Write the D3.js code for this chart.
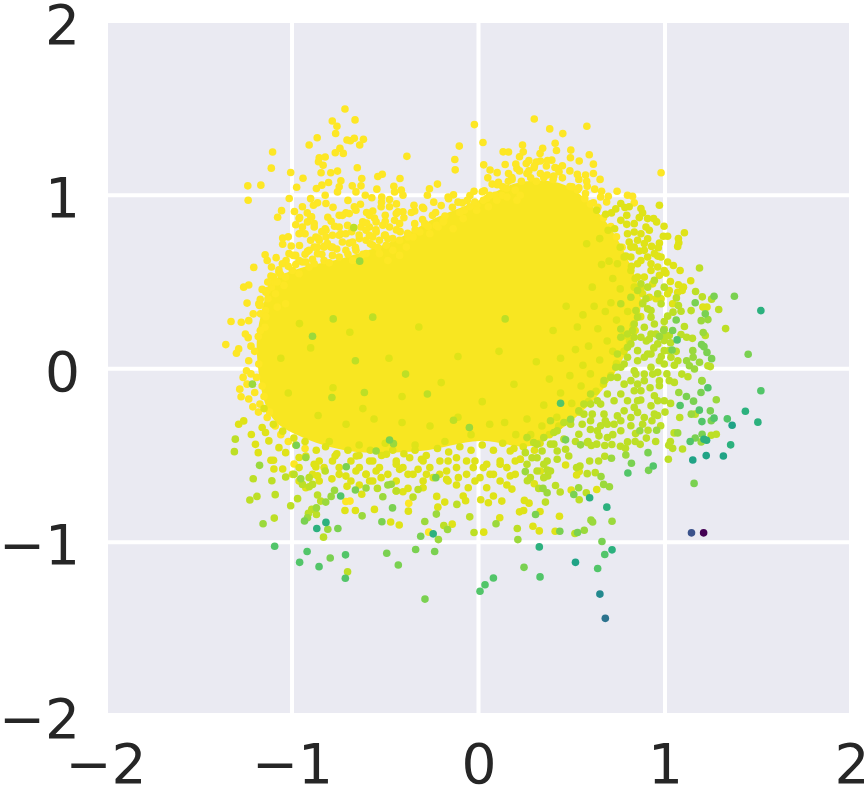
<!DOCTYPE html>
<html>
<head>
<meta charset="utf-8">
<script src="https://cdn.jsdelivr.net/npm/d3@7"></script>
<style>
    body { margin: 0; background: #fff; }
    text { font-family: "DejaVu Sans"; }
</style>
</head>
<body>
<div id="scatter"></div>
<script>
var tickValues = [-2, -1, 0, 1, 2];
var tickLabels = ["\u22122", "\u22121", "0", "1", "2"];

// the core is too dense to read single points from: its outline is read instead
var coreOutline = [[-1.189,.104],[-1.167,.306],[-1.097,.509],[-.962,.578],[-.72,.64],[-.45,.74],[-.233,.867],[0,.97],[.224,1.075],[.466,1.058],[.655,.884],[.79,.653],[.871,.393],[.806,.133],[.682,-.098],[.466,-.329],[.278,-.445],[.008,-.416],[-.315,-.474],[-.693,-.474],[-.962,-.387],[-1.113,-.272]];

// points, one list per colour value
var yellowPoints = [[-.716,1.497],[-.784,1.428],[-.662,1.434],[-.759,1.397],[-.766,1.356],[-.865,1.331],[-.908,1.289],[-.705,1.318],[-.687,1.314],[-.666,1.328],[-.617,1.322],[-.637,1.289],[-.743,1.27],[-.768,1.245],[-.725,1.241],[-1.104,1.249],[-1.111,1.156],[-1.007,1.131],[-1.237,1.054],[-1.167,1.058],[-1.235,.971],[-.975,1.046],[-.941,1.098],[-1.015,.981],[-1.056,.911],[-1.077,.873],[-.987,.906],[-.384,1.224],[-.65,1.158],[-.626,1.096],[-.54,1.108],[-.516,1.121],[-.421,1.096],[-.022,1.407],[.024,1.304],[-.103,1.283],[-.127,1.206],[-.125,1.146],[.028,1.175],[.062,1.145],[.132,1.25],[.161,1.249],[.143,1.177],[-.22,1.064],[-.263,1.037],[-.274,1],[-.163,.99],[-.134,1.002],[-.046,.998],[-.024,1.023],[.031,1.025],[.073,1.064],[.107,1.075],
[-.854,1.216],[-.822,1.22],[-.858,1.193],[-.833,1.173],[-.844,1.129],[-.792,1.129],[-.756,1.139],[-.738,1.083],[-.747,1.048],[-.804,1.073],[-.84,1.058],[-.869,1.039],[-.756,1.019],[-.822,1],[-.677,1.054],[-.63,1.054],[-.657,1.019],[-.607,1],[-.572,.985],[-.545,1.035],[-.519,.99],[-.454,1.052],[-.414,1.029],[-.45,1.019],[-.405,1],[-.477,.975],[-.346,.942],[-.294,.923],[-.342,.909],[-.405,.904],[-.432,.904],[-.477,.933],[-.522,.933],[-.567,.909],[-.633,.948],[-.666,.933],[-.711,.898],[-.747,.884],[-.818,.952],[-.863,.956],[-.885,.942],[-.944,.933],[-.918,.898],[-.895,.875],[-.959,.871],[-.808,.873],[-.881,.817],[-.953,.782],[-.93,.778],[-.772,.821],[-.822,.807],[-.858,.75],[-.818,.759],[-.702,.826],[-.63,.817],[-.738,.778],[-.693,.724],[-.558,.869],[-.585,.817],[-.5,.884],[-.45,.855],[-.423,.836],[-.567,.759],[-.504,.769],[-.486,.749],[-.378,.759],[-.342,.836],[-.288,.836],[-.247,.884],[-.186,.852],[-.226,.826],[-.087,.956],[-.076,.913],[-.01,.942],[.044,.981],[.125,1],[.197,1.029],[.224,1],[.206,1.154],[.161,1.125],[.179,1.102],[.22,1.222],[.13,1.048],[.089,1],
[-1.05,.753],[-1.05,.717],[-1.004,.707],[-1.144,.657],[-1.133,.624],[-1.085,.64],[-1.205,.584],[-1.11,.586],[-1.113,.534],[-1.061,.543],[-1.032,.624],[-.993,.653],[-.944,.615],[-.917,.676],[-.863,.701],[-.792,.701],[-.828,.705],[-1.259,.47],[-1.232,.482],[-1.16,.457],[-1.111,.47],[-1.241,.378],[-1.129,.403],[-1.174,.364],[-1.208,.316],[-1.169,.316],[-1.327,.272],[-1.272,.268],[-1.232,.277],[-1.145,.239],[-1.181,.185],[-1.235,.179],[-1.079,.355],[-1.034,.374],
[-1.355,.139],[-1.286,.114],[-1.298,.089],[-1.232,.046],[-1.244,-.012],[-1.178,.027],[-1.262,-.05],[-1.241,-.089],[-1.28,-.118],[-1.273,-.162],[-1.232,-.175],[-1.172,-.204],[-1.2,-.137],[-1.133,-.281],
[.299,1.439],[.382,1.382],[.452,1.355],[.581,1.397],[.236,1.289],[.411,1.299],[.344,1.27],[.418,1.258],[.495,1.26],[.594,1.233],[.493,1.216],[.54,1.197],[.616,1.179],[.393,1.202],[.332,1.197],[.31,1.191],[.256,1.183],[.364,1.168],[.298,1.158],[.425,1.154],[.432,1.135],[.332,1.125],[.26,1.125],[.368,1.116],[.404,1.11],[.538,1.091],[.574,1.116],[.616,1.125],[.652,1.091],[.502,1.048],[.538,1.042],[.583,1.052],[.623,1.035],[.66,1.023],[.574,1.01],[.743,1.023],[.799,1],[.826,.994],[.835,.956],[.696,.994],[.687,.961],[.655,.99],[.616,.956],[.979,1.129],
[-.711,-.765],[-.689,-.763],[-.374,-.776],[-.267,-.942],[-.989,-.549]];

var yellowFringe = [[-.962,.865],[-.944,.817],[-.962,.778],[-.881,.836],[-.899,.875],[-.917,.846],[-.854,.74],[-.828,.701],[-.881,.701],[-.908,.682],[-.863,.663],[-.98,.653],[-1.016,.663],[-.962,.624],[-.926,.615],[-.881,.605],[-.81,.721],[-.783,.701],[-.747,.769],[-.711,.778],[-.675,.73],[-.639,.75],[-.603,.74],[-.567,.711],[-.531,.74],[-.495,.711],[-.459,.682],[-.423,.74],[-.387,.701],[-.351,.759],[-.315,.788],[-.261,.778],[-.217,.817],[-.19,.846],[-.136,.807],[-.082,.865],[-.046,.933],[-.01,.913],[.026,.971],[.053,.933],[.098,.971],[.152,.99],[.206,.971],[-.729,.884],[-.693,.894],[-.657,.913],[-.585,.884],[-.549,.846],[-.513,.827],[-.477,.817],[-.441,.894],[-.585,.769],[-.549,.788],[-.621,.846],[-.603,.798],[-.747,.817],[-.783,.769],[-.818,.798],[-.872,.759],[-.711,.682],[-.657,.682],[-.783,.653],[-.747,.644],[-.675,.624],[-.603,.663],[-.531,.663],[-.486,.624],[-.423,.653],[-1.052,.605],[-1.07,.557],[-1.097,.499],[-1.133,.451],[-1.178,.374],[-1.142,.335],[-1.088,.432],[-1.043,.48],[-.998,.566],[-1.034,.528],[-.962,.547],[-.908,.586],[-.828,.624],
[-1.17,.22],[-1.2,.1],[-1.22,.13],[-1.19,-.05],[-1.16,-.1],[-1.22,-.03],[-1.25,.2],[-1.14,.3],[-1.17,.4],[-1.13,.5],[-1.08,.5],[-1.12,-.25],[-1.09,-.33],[-1.06,-.38],[-1.21,-.22],[-1.15,-.16],[-1.18,-.25],[-1.02,-.42],[-.98,-.44],[-.93,-.46]];

var yellowEdge = [[-1.17,.37],[-1.14,.44],[-1.1,.53],[-1.07,.57],[-1.02,.59],[-.98,.6],[-.93,.66],[-.89,.63],[-.84,.66],[-.8,.61],[-.76,.69],[-.7,.66],[-.66,.7],[-.62,.66],[-.58,.72],[-.54,.7],[-.5,.77],[-.46,.75],[-.42,.79],[-.38,.78],[-.34,.8],[-.3,.86],[-.27,.82],[-.23,.9],[-.18,.88],[-.14,.93],[-.1,.9],[-.06,.97],[-.02,.96],[.02,1.02],[.06,1],[.1,1.06],[.15,1.04],[.18,1.09],[.23,1.08],[.27,1.14],[.31,1.08],[.35,1.1],[.4,1.09],[.45,1.1],[.49,1.05],[.53,1.03],[.57,.98],[.6,.95],[.64,.93],[.67,.87],[.71,.82],[.74,.76],[.77,.7],
[-.96,.71],[-.9,.74],[-.84,.79],[-.79,.85],[-.73,.73],[-.68,.79],[-.64,.77],[-.6,.84],[-.55,.8],[-.5,.85],[-.44,.8],[-.4,.87],[-.36,.9],[-.3,.93],[-.24,.96],[-.2,.94],[-.16,.98],[-.11,.96],[-.98,.83],[-1.02,.76],[-.9,.98],[-.78,.93],[-.7,.97],[-.6,.9],[-.52,.96],[-.44,.95],
[.05,1.1],[.1,1.13],[.16,1.08],[.22,1.14],[.27,1.2],[.3,1.17],[.33,1.24],[.37,1.2],[.41,1.16],[.45,1.17],[.49,1.14],[.53,1.12],[.58,1.08],[.2,1.18],[.24,1.25],[.28,1.1]];

var paleLimePoints = [[.763,.952],[.785,.929],[.808,.933],[.736,.921],[.713,.898],[.682,.89],[.634,.913],[.871,.923],[.88,.898],[.862,.871],[.795,.884],[.763,.855],[.795,.832],[.73,.807],[.695,.798],[.907,.865],[.939,.865],[.955,.846],[.898,.817],[.916,.798],[.835,.788],[.799,.778],[.97,.942],[.995,.821],[.991,.763],[1.014,.763],[.907,.749],[1.104,.784],[1.072,.75],[1.074,.726],[1.068,.705],[.97,.724],[.964,.697],[.928,.705],[.889,.721],[.862,.678],[.808,.73],[.817,.701],[.871,.624],[.925,.605],[.817,.566],[.781,.644],[.745,.605],[.961,.649],[1.014,.615],[1.045,.595],[1.081,.566],[1.138,.507],[1.005,.551],[1.029,.503],[1.072,.484],[1.099,.47],[1.092,.451],[1.203,.355],[1.225,.355],
[-1.097,-.578],[-1.05,-.578],[-1.286,-.32],[-1.259,-.301],[-1.218,-.379],[-1.181,-.484],[-1.196,-.436],[-1.099,-.528],[-1.113,-.528],[-1.16,-.339],[-1.142,-.368],[-1.124,-.416],[-1.07,-.455],[-1.034,-.484],[-.962,-.512],[-.872,-.566],[-.786,-.635],[-.863,-.618],[-.711,-.619],[-.657,-.59],[-.603,-.609],[-.549,-.59],[-.522,-.628],[-.584,-.647],[-.423,-.58],[-.378,-.609],[-.324,-.58],[-.243,-.628],[-.171,-.638],[-.108,-.628],[.008,-.628],[.08,-.609],[.17,-.618],[.179,-.694],[.044,-.686],[-.055,-.686],[-.926,-.503],[-.881,-.551],[-.769,-.503],[-.655,-.503],[-.584,-.532],[-.494,-.493],[-.441,-.551],[-.369,-.513],[-.306,-.522],[-.207,-.532],[-.118,-.513],[-.064,-.532],[.044,-.551],[.116,-.551],[.17,-.474],[.224,-.522],[-.028,-.57],[-.171,-.59],[-.279,-.609],
[-.705,-.678],[-.626,-.724],[-.558,-.811],[-.66,-.817],[-.716,-.817],[-.471,-.884],[-.425,-.901],[-.376,-.821],[-.441,-.705],[-.405,-.709],[-.378,-.69],[-.218,-.798],[-.224,-.736],[-.181,-.769],[-.141,-.896],[-.082,-.734],[-.069,-.761],[.028,-.942],[.114,-.859],[.125,-.763],[.08,-.734],[.053,-.773],[.012,-.755],[.22,-.825],[.271,-.775],[.246,-.759],[.33,-.823],[.242,-.817],[.434,-.85],[.411,-.937],[.326,-.935],[.292,-.908],[.467,-.555],[.54,-.593],[.526,-.613],[.299,-.663],[.634,-.696],[.497,-.699],[.224,-.522],[.332,-.59],
[-.9,.12],[-.78,-.11],[-.69,.21],[-.62,-.23],[-.48,.06],[-.41,-.16],[-.32,.24],[-.2,-.08],[-.11,.07],[.02,-.19],[.11,.1],[.19,-.09],[.31,.04],[.4,.22],[.52,.11],[.56,.31],[.61,.47],[.64,.23],[.71,.38],[.49,-.04],[.44,-.14],[.59,.13],[.69,.16],[.35,-.21],[.26,-.29],[.14,-.31],[.06,-.32],[-.11,-.28],[-.26,-.33],[-.41,-.31],[-.56,-.29],[-.71,-.32],[-.86,-.27],[-1.02,-.14],[-1.06,.06],[-.96,.26],
[.66,.6],[.72,.52],[.76,.46],[.68,.33],[.74,.28],[.78,.19],[.72,.1],[.65,.05],[.6,-.03],[.55,-.1],[.5,-.2],[.42,-.28],[.34,-.33],[.47,.36],[.53,.24],[.44,.06],[.38,-.06],[.62,.36],[.56,.02],[.8,.33],[.83,.25],[.7,.62],[.76,.7],[.58,.72],[.65,.75],[.28,-.38],[.2,-.38],[-.04,-.38],[-.18,-.42],[-.34,-.44],[-.5,-.43],[-.64,-.44],[-.8,-.42]];

var paleFringe = [[.835,.836],[.835,.701],[.871,.778],[.853,.74],[.889,.682],[.817,.644],[.853,.605],[.907,.644],[.943,.663],[.979,.644],[.925,.566],[.961,.586],[.889,.528],[.934,.489],[.97,.538],[.996,.566],[.853,.528],[.835,.47],[.88,.432],[.916,.412],[.952,.403],[1.014,.432],[.979,.403],[1.023,.451],[1.041,.374],[1.068,.441],
[-.854,-.532],[-.783,-.532],[-.684,-.532],[-.567,-.532],[-.441,-.532],[-.297,-.532],[-.163,-.532],[-.019,-.532],[.116,-.532],[.197,-.532],[-.962,-.57],[-.828,-.57],[-.747,-.57],[-.639,-.57],[-.531,-.57],[-.405,-.57],[-.261,-.57],[-.118,-.57],[.026,-.57],[.152,-.57],[-.998,-.609],[-.89,-.609],[-.747,-.609],[-.603,-.609],[-.486,-.609],[-.351,-.609],[-.208,-.609],[-.064,-.609],[.062,-.609],[.197,-.609],[-.962,-.647],[-.854,-.647],[-.684,-.647],[-.567,-.647],[-.441,-.647],[-.297,-.647],[-.163,-.647],[-.019,-.647],[.116,-.647],[-.926,-.686],[-.639,-.67],[-.297,-.686],[-.118,-.67],[.152,-.67]];

var paleEdge = [[-1.15,-.23],[-1.1,-.32],[-1.05,-.36],[-.99,-.4],[-.93,-.42],[-.87,-.47],[-.82,-.45],[-.76,-.49],[-.7,-.47],[-.64,-.5],[-.58,-.47],[-.52,-.5],[-.46,-.47],[-.4,-.49],[-.34,-.47],[-.28,-.5],[-.22,-.46],[-.16,-.48],[-.1,-.45],[-.04,-.47],[.02,-.44],[.08,-.47],[.13,-.43],[.19,-.46],[.24,-.45],[.3,-.47],[.33,-.43],
[.38,-.38],[.43,-.33],[.49,-.3],[.54,-.25],[.59,-.19],[.63,-.13],[.67,-.09],[.71,-.04],[.74,.03],[.78,.1],[.81,.16],[.84,.22],[.87,.3],[.88,.38],[.87,.46],[.84,.52],[.82,.59],[.79,.65]];

var limePoints = [[1.185,.58],[1.164,.445],[1.2,.414],[1.14,.335],[1.086,.331],[1.043,.326],[1.072,.364],[1.061,.408],[1.25,.401],[1.288,.341],[1.014,.303],[.996,.272],[1.325,.231],[1.104,.243],[1.216,.191],[1.086,.197],[1.116,.181],[1.147,.175],[1.23,.017],[1.243,.012],[1.032,.066],[1.069,.046],[1.09,-.031],[1.123,-.046],[1.023,-.069],[1.05,-.079],[.97,-.098],
[.763,.374],[.817,.412],[.853,.451],[.907,.47],[.961,.432],[.979,.374],[.925,.335],[.853,.297],[.889,.239],[.826,.22],[.763,.181],[.817,.143],[.925,.2],[.961,.143],[.907,.085],[.853,.104],[.799,.066],[.745,.085],[.763,.008],[.835,-.012],[.889,-.031],[.925,.008],[.961,-.021],[.745,-.05],[.781,-.089],[.871,.489],[.943,.509],[.996,.47],
[.996,-.185],[.943,-.156],[.871,-.127],[.799,-.185],[.727,-.185],[.655,-.204],[.601,-.204],[.565,-.204],[.925,-.214],[.853,-.252],[.889,-.281],[.817,-.281],[.745,-.272],[.673,-.262],[.61,-.262],[.538,-.243],[.88,-.32],[.817,-.329],[.763,-.358],[.655,-.329],[.646,-.387],[.556,-.32],[.538,-.378],[.458,-.406],[.404,-.368],[.458,-.31],[.583,-.426],[.467,-.464],[.484,-.503],[.422,-.522],[.341,-.474],[.287,-.513],[.368,-.532],[.296,-.426],[.251,-.484],[.404,-.435],
[.977,-.329],[.909,-.355],[.842,-.374],[.867,-.436],[.761,-.447],[.788,-.459],[.799,-.422],[.715,-.437],[.677,-.443],[.634,-.435],[.605,-.443],[.587,-.42],[.677,-.505],[.644,-.532],[.596,-.532],[.526,-.57],[.544,-.561],[.626,-.599],[.583,-.605],[.578,-.715],[.54,-.755],[.438,-.711],[.413,-.673],[.359,-.769],[.517,-.95],[.369,-.584],[.371,-.618],[.262,-.646],[.323,-.69],[1.018,-.522],[1.248,-.384],[1.275,-.378],[1.162,-.262],[1.079,-.281],[1.094,-.463],[1.041,-.459],[1.02,-.441],[1.029,-.42],[1.049,-.37],
[-1.226,-.757],[-1.188,-.736],[-1.208,-.634],[-1.108,-.646],[-1.09,-.726],[-1.095,-.861],[-1.034,-.624],[-1.007,-.79],[-.97,-.749],[-1.309,-.478],[-1.304,-.406],[-.989,-.609],[-.944,-.667],[-.908,-.68],[-.89,-.667],[-.863,-.728],[-.846,-.763],[-.894,-.811],[-.912,-.834],[-.869,-.84],[-.831,-.971],[-.702,-1.171],[-.908,-.628],[-.822,-.59],[-.542,-.69],[-.441,-.705],[-.351,-.74],[-.324,-.696],[-.186,-.904],[-.116,-.782],[-.047,-.854],[-.024,-.944],[.208,-.921],[-.66,.046],[-.391,-.031],[-.612,-.137],[-.274,-.146],[-.786,-.166],[-.134,-.297],[-.669,.813],[.143,.287],[-.567,.297],[-.779,.287]];

var limeFringe = [[.907,.345],[.88,.374],[.925,.297],[.943,.258],[.996,.229],[.898,.403],[.844,.335],[.835,.258],[.871,.181],[.916,.171],[.952,.2],[.996,.162],[1.023,.191],[.835,.181],[.799,.2],[.763,.229],[.799,.123],[.853,.046],[.889,.066],[.925,.085],[.996,.104],[1.023,.104],[.996,.027],[.97,.046],[.934,-.031],[.889,-.069],[.853,-.089],[.817,-.069],[.844,-.031],[.781,.027],[.736,.008],[.709,-.05],[.673,-.069],
[.386,-.3],[.422,-.358],[.35,-.397],[.314,-.435],[.386,-.435],[.422,-.474],[.314,-.513],[.35,-.551],[.26,-.551],[.314,-.59],[.386,-.59],[.278,-.628],[.35,-.628],[.26,-.397],[.494,-.32],[.565,-.262],[.601,-.3],[.637,-.358],[.691,-.397],[.727,-.32],[.763,-.3],[.781,-.243],[.835,-.223],[.853,-.185],[.943,-.262],[.961,-.185],[.691,-.32],[.637,-.185],[.601,-.146],[.691,-.146],[.763,-.146],[.835,-.127],
[.9,.16],[.94,.12],[.98,.07],[1,.19],[1.03,.15],[1.06,.1],[1.05,.02],[1.01,-.03],[.97,-.07],[.92,-.11],[.87,-.18],[.93,-.3],[.96,-.27],[1,-.25],[1.03,-.2],[.9,-.4],[.84,-.42],[.95,-.42],[.72,-.38],[.68,-.3],[.6,-.35],[.52,-.42]];

var leafPoints = [[1.205,.208],[1.149,.104],[1.151,.066],[1.116,.046],[1.185,.037],[1.131,.017],[1.158,-.002],[1.198,-.069],[.97,.185],[.993,.22],[1.194,.277],[1.23,.283],[1.275,-.179],[1.074,-.137],[1.198,-.071],[1.141,-.262],[1.068,-.37],[1.194,-.422],[.955,-.355],[.865,-.358],[.79,-.497],[.547,-.439],[.713,-.516],[.657,-.622],[.671,-.667],[.702,-.68],[.537,-.686],[.368,-.715],[.346,-.69],[.603,-.873],[.612,-.884],[.716,-.879],[.494,-.291],[.251,-.593],[.567,-.931],
[-1.155,-.894],[-1.174,-.557],[-1.212,-.089],[-.926,-.512],[-.953,-.634],[-.917,-.859],[-.819,-.769],[-.869,-.802],[-.808,-.925],[-.79,-.736],[-.772,-.701],[-.603,-.688],[-.624,-.848],[-.513,-.738],[-.486,-.67],[-.468,-.666],[-.456,-.432],[-.549,-.474],[-.288,-.881],[-.215,-.985],[-.226,-.838],[-.166,-.927],[.094,-.894],[.211,-.985],[-.049,-.339],[-.637,.62],[-.89,.187]];

var grassPoints = [[.82,-.545],[.909,-.484],[.912,-.586],[1.162,-.399],[1.199,-.378],[1.243,-.243],[1.248,-.3],[1.153,-.187],[1.115,-.16],[1.193,-.137],[1.156,-.661],[1.263,.418],[1.372,.418],[1.162,.38],[1.216,.316],[1.041,.22],[1.196,.139],[1.209,.127],[1.225,.094],[1.25,.058],[1.446,.083],[.511,-.725],[.436,-.937],[.531,-.944],[.306,-.84],[.244,-1.145],[.662,-.996],[.467,-.41],[1.06,.281],[1.038,.108],
[-.709,-.565],[-.66,-.699],[-.933,-.878],[-.754,-.921],[-.492,-1.064],[-.43,-1.131],[-.337,-1.042],[-.235,-1.054],[-.287,-1.328],[-.795,-1.091],[-.518,-.882],[-.461,-.802],[-.31,-.966],[-.229,-.628],[-.477,-.411],[-.977,-.441]];

var greenPoints = [[1.514,-.127],[1.334,-.289],[.937,-.561],[.801,-.601],[1.135,-.42],[1.198,-.305],[1.263,-.285],[1.184,-.239],[1.081,-.212],[1.23,-.11],[1.065,.166],[.639,-1.152],[.33,-1.2],[.677,-1.071],[.44,-.199],
[-1.093,-1.023],[-.919,-1.054],[-.959,-1.116],[-.855,-1.141],[-.713,-1.073],[-.714,-1.208],[-.739,-.734],[.08,-1.206],[.035,-1.245],[.008,-1.283]];

var seaPoints = [[1.514,.335],[1.209,-.407],[1.223,-.412],[.688,-.798],[.596,-.744],[1.352,-.439],[1.498,-.308],[1.431,-.245],[.326,-1.027],[.716,-1.044],[-.818,-.886],[-.867,-.921],[-.243,-.952]];

var tealPoints = [[.52,-1.116],[1.149,-.526],[1.221,-.501],[1.313,-.503],[1.36,-.326]];

var singleShades = [.47, .38, .25, 0];
var singleX = [.651, .68, 1.142, 1.207];
var singleY = [-1.299, -1.439, -.946, -.946];

var bandShades = [1, 1, 1, .95, .95, .95, .9, .9, .85, .8, .73, .64, .58];
var bandPoints = [yellowPoints, yellowFringe, yellowEdge, paleLimePoints, paleFringe, paleEdge, limePoints, limeFringe, leafPoints, grassPoints, greenPoints, seaPoints, tealPoints];

var svgWidth = 868;
var svgHeight = 788;

var margin = {
    top: 23,
    right: 19,
    bottom: 75,
    left: 108
};

var width = svgWidth - margin.left - margin.right;
var height = svgHeight - margin.top - margin.bottom;

var svg = d3.select("#scatter")
    .append("svg")
    .attr("width", svgWidth)
    .attr("height", svgHeight)
    .style("display", "block");

var chartGroup = svg.append("g")
    .attr("transform", `translate(${margin.left}, ${margin.top})`);

// the -2 and 2 ticks sit just outside the panel in the reference
var xScale = d3.scaleLinear().domain([-2, 2]).range([-2.5, width + 2.5]);
var yScale = d3.scaleLinear().domain([-2, 2]).range([height + 2.7, -1.3]);
var shadeScale = d3.scaleSequential(d3.interpolateViridis).domain([0, 1]);

chartGroup.append("rect")
    .attr("width", width)
    .attr("height", height)
    .attr("fill", "#eaeaf2");

var bottomAxis = d3.axisBottom(xScale)
    .tickValues(tickValues)
    .tickFormat((d, i) => tickLabels[i])
    .tickSize(0)
    .tickPadding(31);

var leftAxis = d3.axisLeft(yScale)
    .tickValues(tickValues)
    .tickFormat((d, i) => tickLabels[i])
    .tickSize(0)
    .tickPadding(28);

var xAxisGroup = chartGroup.append("g")
    .attr("transform", `translate(0, ${height})`)
    .call(bottomAxis);

var yAxisGroup = chartGroup.append("g")
    .call(leftAxis);

[xAxisGroup, yAxisGroup].forEach(function (axis) {
    axis.select(".domain").remove();
    axis.selectAll("text")
        .attr("font-size", "55px")
        .attr("font-family", "DejaVu Sans")
        .attr("fill", "#262626");
});
yAxisGroup.selectAll("text").attr("dy", "0.39em");

// grid, only for the ticks inside the panel
chartGroup.selectAll(".gridX")
    .data(tickValues.slice(1, -1))
    .enter()
    .append("line")
    .attr("x1", d => xScale(d))
    .attr("x2", d => xScale(d))
    .attr("y1", 0)
    .attr("y2", height)
    .attr("stroke", "white")
    .attr("stroke-width", 4);

chartGroup.selectAll(".gridY")
    .data(tickValues.slice(1, -1))
    .enter()
    .append("line")
    .attr("x1", 0)
    .attr("x2", width)
    .attr("y1", d => yScale(d))
    .attr("y2", d => yScale(d))
    .attr("stroke", "white")
    .attr("stroke-width", 4);

var coreLine = d3.line()
    .x(d => xScale(d[0]))
    .y(d => yScale(d[1]))
    .curve(d3.curveCatmullRomClosed);

chartGroup.append("path")
    .attr("d", coreLine(coreOutline))
    .attr("fill", shadeScale(0.99));

bandPoints.forEach(function (points, i) {
    chartGroup.append("g")
        .selectAll("circle")
        .data(points)
        .enter()
        .append("circle")
        .attr("r", 3.8)
        .attr("cx", d => xScale(d[0]))
        .attr("cy", d => yScale(d[1]))
        .attr("fill", shadeScale(bandShades[i]));
});

chartGroup.append("g")
    .selectAll("circle")
    .data(singleShades)
    .enter()
    .append("circle")
    .attr("r", 3.8)
    .attr("cx", (d, i) => xScale(singleX[i]))
    .attr("cy", (d, i) => yScale(singleY[i]))
    .attr("fill", d => shadeScale(d));
</script>
</body>
</html>
